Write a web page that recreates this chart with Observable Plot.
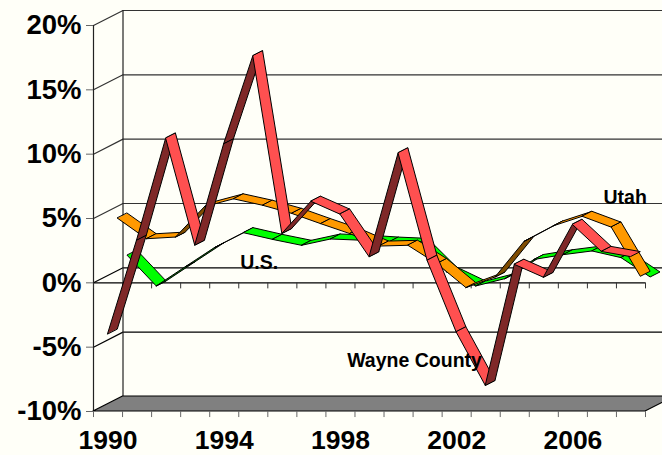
<!DOCTYPE html>
<html><head><meta charset="utf-8">
<script src="https://cdn.jsdelivr.net/npm/d3@7"></script>
<script src="https://cdn.jsdelivr.net/npm/@observablehq/plot@0.6"></script>
<style>html,body{margin:0;padding:0;background:#fffff8;overflow:hidden}svg{display:block}</style>
</head><body><div id="chart"></div>
<script>
const years = [1990,1991,1992,1993,1994,1995,1996,1997,1998,1999,2000,2001,2002,2003,2004,2005,2006,2007,2008];
const wayne = [-4.0,3.3,11.2,2.9,10.8,17.6,3.8,6.3,5.3,2.0,10.05,1.7,-3.86,-8.0,1.4,0.4,4.5,2.4,2.0];
const utah  = [4.6,3.0,3.13,5.5,6.1,5.6,4.97,4.17,3.4,2.43,2.49,1.06,-0.8,0.03,2.8,4.0,4.74,3.9,0.08];
const us    = [1.32,-1.06,0.44,1.92,3.08,2.56,2.1,2.59,2.5,2.35,2.25,0.02,-1.06,-0.49,1.0,1.37,1.66,1.14,-0.36];
const yTicks = [-10,-5,0,5,10,15,20];
const xLabels = [1990,1994,1998,2002,2006];
const xEdges = [...years.map(y => y - 0.5), 2008.5];
const labels = [
  {text:"U.S.", x:1995.2, y:1.55},
  {text:"Wayne County", x:2000.55, y:-6.07},
  {text:"Utah", x:2007.8, y:6.65}
];
const DX = 0.3385, DY = 0.389;   // one ribbon's depth, in axis units
const DEPTH = 3;
const x0 = 1989.5, x1 = 2008.5;
const wallLine = v => [
  {x:x0, y:v},
  {x:x0 + DEPTH*DX, y:v + DEPTH*DY},
  {x:x1 + DEPTH*DX, y:v + DEPTH*DY}
];
function ribbon(values, depth, fillLit, fillDark) {
  const rows = [];
  for (let i = 0; i < values.length - 1; i++) {
    const fill = (values[i+1] - values[i]) > DY / DX ? fillDark : fillLit;
    for (const k of [i, i+1]) rows.push({
      seg:i, fill,
      ax:years[k] + depth*DX, ay:values[k] + depth*DY,
      bx:years[k] + (depth+1)*DX, by:values[k] + (depth+1)*DY
    });
  }
  return Plot.area(rows, {x1:"ax", y1:"ay", x2:"bx", y2:"by", z:"seg", fill:"fill", stroke:"#000", strokeWidth:1, curve:"linear"});
}
const floor = [x0, x1].map(x => ({ax:x, ay:-10, bx:x + DEPTH*DX, by:-10 + DEPTH*DY}));
const chart = Plot.plot({
  width:662, height:455,
  marginLeft:93, marginRight:17, marginTop:25, marginBottom:44,
  style:{background:"#fffff8", fontFamily:"'Liberation Sans',Arial,sans-serif", fontWeight:"bold", color:"#000"},
  x:{domain:[x0,x1], label:null},
  y:{domain:[-10,20], label:null},
  marks:[
    ...yTicks.filter(v => v > -10).map(v => Plot.line(wallLine(v), {x:"x", y:"y", stroke: v === -5 || v === 0 ? "#000" : "#333", strokeWidth:1.2})),
    Plot.ruleX([x0], {y1:-10, y2:20, stroke:"#222", strokeWidth:1.2}),
    Plot.ruleX([x0 + DEPTH*DX], {y1:-10 + DEPTH*DY, y2:20 + DEPTH*DY, stroke:"#222", strokeWidth:1.2}),
    Plot.area(floor, {x1:"ax", y1:"ay", x2:"bx", y2:"by", fill:"#808080", stroke:"#000", strokeWidth:1.2}),
    Plot.ruleY([0], {x1:x0, x2:x1, stroke:"#000", strokeWidth:1.2}),
    Plot.ruleX(xEdges, {y1:0, y2:-0.47, stroke:"#333"}),
    Plot.ruleX(xEdges, {y1:-10, y2:-10.47, stroke:"#666"}),
    ribbon(us, 2, "#00ff00", "#007f00"),
    ribbon(utah, 1, "#ff9900", "#7f4c00"),
    ribbon(wayne, 0, "#ff5050", "#7f2828"),
    Plot.axisY({ticks:yTicks, tickFormat:d => d + "%", tickSize:7, tickPadding:5, stroke:"#666", fontSize:27.5, fontWeight:"bold", label:null}),
    Plot.axisX({ticks:xLabels, tickFormat:d => String(d), tickSize:0, tickPadding:19, fontSize:26.5, fontWeight:"bold", label:null}),
    Plot.text(labels, {x:"x", y:"y", text:"text", fontSize:19.5, fontWeight:"bold", fill:"#000"})
  ]
});
document.getElementById("chart").append(chart);
</script></body></html>
